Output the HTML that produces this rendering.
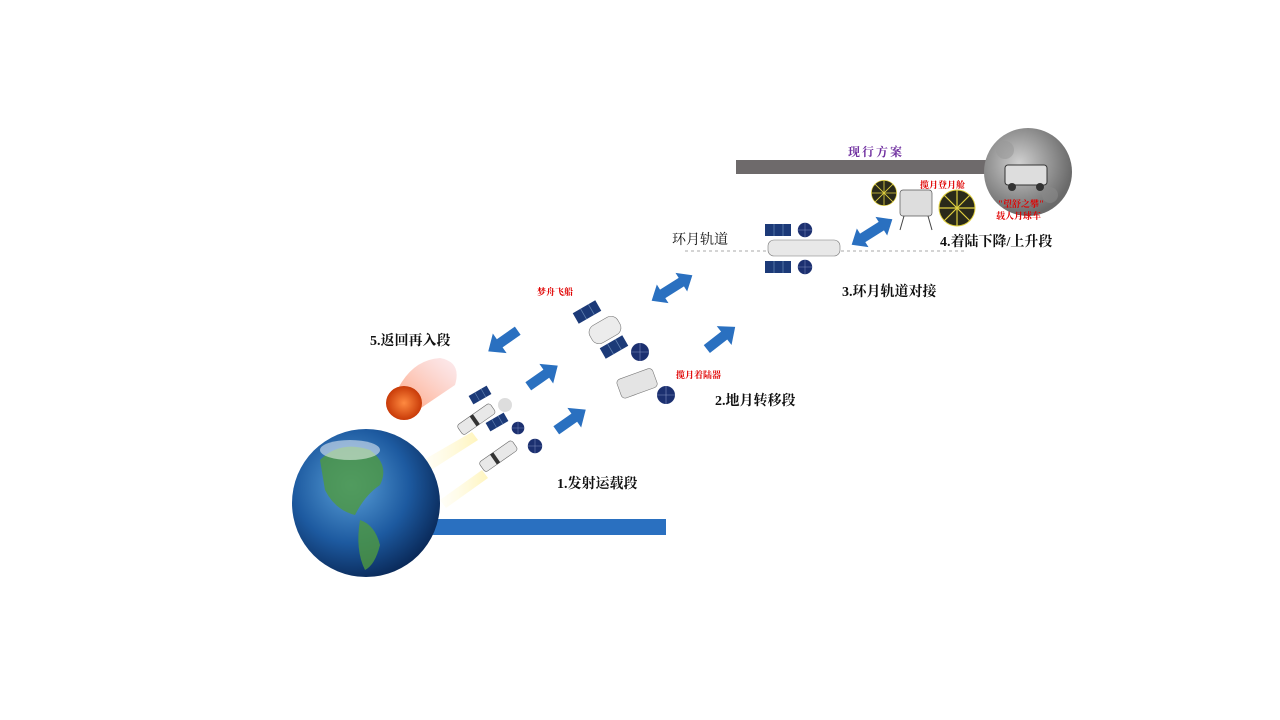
<!DOCTYPE html>
<html><head><meta charset="utf-8"><style>
html,body{margin:0;padding:0;background:#fff;width:1280px;height:720px;overflow:hidden}
svg{display:block}
text{font-family:"Liberation Serif","Noto Serif CJK SC","Noto Sans CJK SC",serif}
</style></head><body>
<svg width="1280" height="720" viewBox="0 0 1280 720">
<defs>
<radialGradient id="earth" cx="40%" cy="38%" r="65%">
<stop offset="0" stop-color="#5aa0d8"/><stop offset="0.6" stop-color="#1d5aa0"/><stop offset="1" stop-color="#0a2a5a"/></radialGradient>
<radialGradient id="moon" cx="40%" cy="40%" r="60%">
<stop offset="0" stop-color="#d0d0d0"/><stop offset="1" stop-color="#6a6a6a"/></radialGradient>
<radialGradient id="cap" cx="50%" cy="50%" r="50%">
<stop offset="0" stop-color="#ff8a40"/><stop offset="1" stop-color="#c83a08"/></radialGradient>
<linearGradient id="fl" x1="0" y1="0" x2="1" y2="0"><stop offset="0" stop-color="#fff8d0" stop-opacity="0.2"/><stop offset="1" stop-color="#fff0a0"/></linearGradient>
<linearGradient id="rf" x1="0" y1="1" x2="1" y2="0"><stop offset="0" stop-color="#ff9060"/><stop offset="1" stop-color="#f8d0d8" stop-opacity="0.5"/></linearGradient>
<g id="sarr"><polygon points="-18,-5 4,-5 4,-12 18,0 4,12 4,5 -18,5" fill="#2a70c0"/></g>
<g id="darr"><polygon points="-24,0 -11,-11 -11,-5 11,-5 11,-11 24,0 11,11 11,5 -11,5 -11,11" fill="#2a70c0"/></g>
<g id="panel"><rect x="-13" y="-6" width="26" height="12" fill="#1c3a78"/><line x1="-4" y1="-6" x2="-4" y2="6" stroke="#6080b0" stroke-width="0.8"/><line x1="5" y1="-6" x2="5" y2="6" stroke="#6080b0" stroke-width="0.8"/></g>
<g id="dish"><circle r="9" fill="#1c3070"/><line x1="-9" y1="0" x2="9" y2="0" stroke="#8090c0" stroke-width="0.6"/><line x1="0" y1="-9" x2="0" y2="9" stroke="#8090c0" stroke-width="0.6"/></g>
<g id="ydish"><circle r="18" fill="#2a2a1a"/><g stroke="#e0d040" stroke-width="1.2"><line x1="-18" y1="0" x2="18" y2="0"/><line x1="0" y1="-18" x2="0" y2="18"/><line x1="-13" y1="-13" x2="13" y2="13"/><line x1="-13" y1="13" x2="13" y2="-13"/></g><circle r="18" fill="none" stroke="#e0d040" stroke-width="1"/></g>
</defs>

<rect x="736" y="160" width="256" height="14" fill="#6e6a6b"/>
<rect x="430" y="519" width="236" height="16" fill="#2a70c0"/>
<line x1="685" y1="251" x2="965" y2="251" stroke="#aaa" stroke-width="1" stroke-dasharray="3,3"/>

<polygon points="420,462 472,432 478,440 428,472" fill="url(#fl)" opacity="0.7"/>
<polygon points="440,500 482,470 488,478 446,508" fill="url(#fl)" opacity="0.7"/>

<circle cx="366" cy="503" r="74" fill="url(#earth)"/>
<path d="M320,460 q20,-20 50,-10 q20,15 10,35 q-15,10 -25,30 q-20,-5 -30,-25 z" fill="#4f9a40" opacity="0.8"/>
<path d="M360,520 q15,5 20,25 q-5,20 -15,25 q-10,-20 -5,-50 z" fill="#4f9a40" opacity="0.8"/>
<ellipse cx="350" cy="450" rx="30" ry="10" fill="#fff" opacity="0.5"/>

<circle cx="1028" cy="172" r="44" fill="url(#moon)"/>
<circle cx="1005" cy="150" r="9" fill="#999" opacity="0.6"/>
<circle cx="1050" cy="195" r="8" fill="#888" opacity="0.6"/>
<rect x="1005" y="165" width="42" height="20" rx="3" fill="#ddd" stroke="#333"/>
<circle cx="1012" cy="187" r="4" fill="#333"/><circle cx="1040" cy="187" r="4" fill="#333"/>

<path d="M395,395 Q410,360 440,358 Q462,362 455,385 L418,410 z" fill="url(#rf)" opacity="0.85"/>
<ellipse cx="404" cy="403" rx="18" ry="17" fill="url(#cap)"/>

<g transform="translate(478,418) rotate(-35)"><rect x="-22" y="-6" width="40" height="12" rx="3" fill="#e8e8e8" stroke="#666" stroke-width="0.6"/><rect x="-6" y="-6" width="4" height="12" fill="#333"/></g>
<use href="#panel" transform="translate(480,395) rotate(-30) scale(0.8)"/>
<use href="#panel" transform="translate(497,422) rotate(-30) scale(0.8)"/>
<circle cx="505" cy="405" r="7" fill="#ddd"/>
<g transform="translate(500,455) rotate(-35)"><rect x="-22" y="-6" width="40" height="12" rx="3" fill="#e8e8e8" stroke="#666" stroke-width="0.6"/><rect x="-8" y="-6" width="4" height="12" fill="#333"/></g>
<use href="#dish" transform="translate(518,428) scale(0.7)"/>
<use href="#dish" transform="translate(535,446) scale(0.8)"/>

<use href="#panel" transform="translate(587,312) rotate(-30)"/>
<use href="#panel" transform="translate(614,347) rotate(-30)"/>
<g transform="translate(605,330) rotate(-30)"><rect x="-16" y="-10" width="32" height="20" rx="8" fill="#ececec" stroke="#777" stroke-width="0.6"/></g>
<use href="#dish" transform="translate(640,352)"/>
<g transform="translate(638,383) rotate(-20)"><rect x="-20" y="-10" width="38" height="20" rx="4" fill="#e4e4e4" stroke="#777" stroke-width="0.6"/></g>
<use href="#dish" transform="translate(666,395)"/>

<use href="#panel" transform="translate(778,230)"/>
<use href="#panel" transform="translate(778,267)"/>
<use href="#dish" transform="translate(805,230) scale(0.8)"/>
<use href="#dish" transform="translate(805,267) scale(0.8)"/>
<rect x="768" y="240" width="72" height="16" rx="6" fill="#e8e8e8" stroke="#777" stroke-width="0.6"/>

<use href="#ydish" transform="translate(884,193) scale(0.7)"/>
<use href="#ydish" transform="translate(957,208)"/>
<rect x="900" y="190" width="32" height="26" rx="3" fill="#ddd" stroke="#555" stroke-width="0.7"/>
<line x1="904" y1="216" x2="900" y2="230" stroke="#444"/><line x1="928" y1="216" x2="932" y2="230" stroke="#444"/>

<use href="#sarr" transform="translate(503,341) rotate(145)"/>
<use href="#sarr" transform="translate(543,376) rotate(-35)"/>
<use href="#sarr" transform="translate(571,420) rotate(-35)"/>
<use href="#sarr" transform="translate(721,338) rotate(-38)"/>
<use href="#darr" transform="translate(672,288) rotate(-32)"/>
<use href="#darr" transform="translate(872,232) rotate(-32)"/>

<g font-weight="bold" font-size="14" fill="#111">
<text x="370" y="345">5.返回再入段</text>
<text x="557" y="488">1.发射运载段</text>
<text x="715" y="405">2.地月转移段</text>
<text x="842" y="296">3.环月轨道对接</text>
<text x="940" y="246">4.着陆下降/上升段</text>
</g>
<text x="672" y="244" font-size="14" fill="#111" font-family="Liberation Sans,Noto Sans CJK SC,sans-serif">环月轨道</text>
<text x="848" y="156" font-size="12" font-weight="bold" fill="#7030a0" letter-spacing="2">现行方案</text>
<g font-size="9" font-weight="bold" fill="#e00000">
<text x="537" y="295">梦舟飞船</text>
<text x="676" y="378">揽月着陆器</text>
<text x="920" y="188">揽月登月舱</text>
<text x="998" y="207">"望舒之攀"</text>
<text x="996" y="219">载人月球车</text>
</g>
</svg>
</body></html>
